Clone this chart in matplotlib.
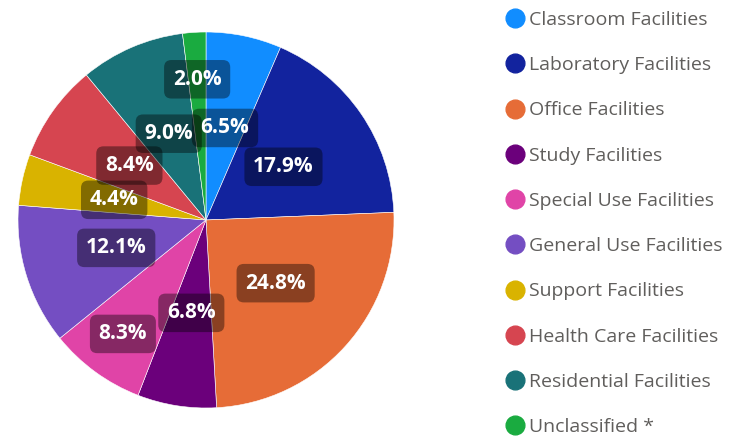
import matplotlib
matplotlib.use("Agg")
import matplotlib.pyplot as plt
from matplotlib.lines import Line2D
import numpy as np

categories = ["Classroom Facilities", "Laboratory Facilities", "Office Facilities",
              "Study Facilities", "Special Use Facilities", "General Use Facilities",
              "Support Facilities", "Health Care Facilities", "Residential Facilities",
              "Unclassified *"]
values = [6.5, 17.9, 24.8, 6.8, 8.3, 12.1, 4.4, 8.4, 9.0, 2.0]
colors = ["#118DFF", "#12239E", "#E66C37", "#6B007B", "#E044A7",
          "#744EC2", "#D9B300", "#D64550", "#197278", "#1AAB40"]
# labels pushed outward to avoid overlap (Power BI style)
label_radius = {"Special Use Facilities": 0.75, "Unclassified *": 0.75}

plt.rcParams['font.family'] = ['Open Sans', 'DejaVu Sans']

W, H = 746, 438
fig = plt.figure(figsize=(W / 100, H / 100), dpi=100)
cx, cy, R = 206, 220, 188
ax = fig.add_axes([(cx - R) / W, (H - cy - R) / H, 2 * R / W, 2 * R / H])

wedges, _ = ax.pie(values, colors=colors, startangle=90, counterclock=False,
                   radius=1.0, wedgeprops=dict(edgecolor="white", linewidth=0.4))
ax.set_xlim(-1, 1)
ax.set_ylim(-1, 1)
ax.set_aspect("equal")
ax.axis("off")

for w, cat, v in zip(wedges, categories, values):
    mid = np.deg2rad((w.theta1 + w.theta2) / 2)
    r = label_radius.get(cat, 0.5)
    ax.text(r * np.cos(mid), r * np.sin(mid), f"{v:.1f}%", ha="center", va="center",
            fontsize=15, fontweight="bold", color="white",
            bbox=dict(boxstyle="round,pad=0.42,rounding_size=0.35", facecolor="black",
                      alpha=0.4, edgecolor="none"))

handles = [Line2D([0], [0], marker="o", linestyle="none", markersize=13.5,
                  markerfacecolor=c, markeredgecolor=c) for c in colors]
leg = fig.legend(handles, categories, loc="upper left",
                 bbox_to_anchor=(503 / W, 1 - 11 / H), frameon=False,
                 fontsize=14, labelcolor="#605E5C", handletextpad=0.1,
                 handlelength=1.25, labelspacing=1.40, borderaxespad=0, borderpad=0)

fig.savefig("out.png", dpi=100, facecolor="white")
